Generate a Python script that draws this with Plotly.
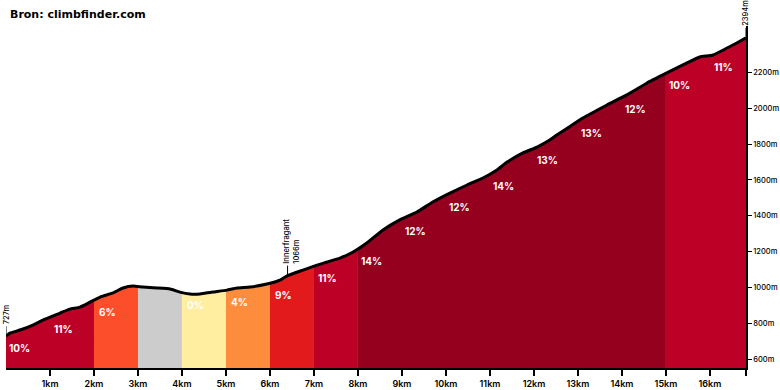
import numpy as np
import plotly.graph_objects as go

# ---- data ----
dist_km = [0, 0.09, 0.32, 0.61, 0.84, 1.23, 1.45, 1.68, 1.91, 2.14, 2.43, 2.66, 2.89, 3.11,
           3.43, 3.73, 3.95, 4.18, 4.41, 4.70, 5.02, 5.25, 5.55, 5.93, 6.23, 6.40, 6.75,
           7.07, 7.30, 7.59, 7.89, 8.20, 8.57, 8.95, 9.34, 9.70, 10.09, 10.48, 10.84,
           11.16, 11.39, 11.75, 12.07, 12.36, 12.52, 12.80, 13.11, 13.66, 14.11, 14.57,
           15.02, 15.48, 15.77, 16.07, 16.39, 16.61, 16.82]
elev_m = [727, 745, 762, 790, 818, 857, 879, 890, 918, 946, 969, 997, 1008, 1002,
          997, 991, 974, 963, 963, 974, 985, 997, 1002, 1019, 1041, 1066, 1097,
          1125, 1142, 1164, 1198, 1248, 1321, 1377, 1421, 1477, 1527, 1572, 1611,
          1656, 1700, 1751, 1784, 1823, 1851, 1896, 1946, 2019, 2075, 2142,
          2198, 2254, 2287, 2298, 2337, 2365, 2394]

seg_start = [0, 1, 2, 3, 4, 5, 6, 7, 8, 9, 10, 11, 12, 13, 14, 15, 16]
seg_end = [1, 2, 3, 4, 5, 6, 7, 8, 9, 10, 11, 12, 13, 14, 15, 16, 16.82]
seg_grade = [10, 11, 6, -3, 0, 4, 9, 11, 14, 12, 12, 14, 13, 13, 12, 10, 11]

km_ticks = [1, 2, 3, 4, 5, 6, 7, 8, 9, 10, 11, 12, 13, 14, 15, 16]
km_labels = [f"{k}km" for k in km_ticks]
elev_ticks = [600, 800, 1000, 1200, 1400, 1600, 1800, 2000, 2200]
elev_labels = [f"{e}m" for e in elev_ticks]

poi_name = "Innerfragant"
poi_km = 6.40
poi_elev = 1066


def grade_color(g):
    if g < 0:
        return "#cccccc"
    if g < 2:
        return "#ffeda0"
    if g < 5:
        return "#fd8d3c"
    if g < 8:
        return "#fc4e2a"
    if g < 10:
        return "#e31a1c"
    if g < 12:
        return "#bd0026"
    return "#96001f"


d = np.array(dist_km)
e = np.array(elev_m)

# group consecutive segments of equal colour into one filled area
runs = []
for s, t, g in zip(seg_start, seg_end, seg_grade):
    c = grade_color(g)
    if runs and runs[-1][2] == c:
        runs[-1][1] = t
    else:
        runs.append([s, t, c])

fig = go.Figure()

for s, t, c in runs:
    inner = (d > s) & (d < t)
    xs = np.concatenate([[s], d[inner], [t]])
    ys = np.concatenate([[np.interp(s, d, e)], e[inner], [np.interp(t, d, e)]])
    fig.add_trace(go.Scatter(x=xs, y=ys, mode="lines", line=dict(width=0),
                             fill="tozeroy", fillcolor=c,
                             hoverinfo="skip", showlegend=False))

fig.add_trace(go.Scatter(x=d, y=e, mode="lines",
                         line=dict(color="black", width=3, shape="spline", smoothing=0.4),
                         hoverinfo="skip", showlegend=False))

label_font = dict(family="Inter", size=10, color="white", weight="bold")
for s, g in zip(seg_start, seg_grade):
    if g < 0:
        continue
    fig.add_annotation(x=s + 0.3, y=np.interp(s, d, e), text=f"{g}%",
                       showarrow=False, yshift=-12, font=label_font,
                       xanchor="center", yanchor="middle")

mark_font = dict(family="Inter", size=7.5, color="black", weight=500)
markers = [(dist_km[0], elev_m[0], f"{elev_m[0]}m", 0),
           (poi_km, poi_elev, f"{poi_name}<br>{poi_elev}m", 4),
           (dist_km[-1], elev_m[-1], f"{elev_m[-1]}m", 0)]
for mx, my, txt, xs_ in markers:
    fig.add_shape(type="line", xref="x", yref="y", xsizemode="scaled",
                  ysizemode="pixel", yanchor=my, x0=mx, x1=mx, y0=1, y1=10,
                  line=dict(color="black", width=1))
    fig.add_annotation(x=mx, y=my, text=txt, textangle=-90, showarrow=False,
                       xanchor="center", yanchor="bottom", yshift=10, xshift=xs_,
                       font=mark_font, align="left")

fig.update_layout(
    width=780, height=390,
    margin=dict(l=6, r=34, t=26, b=22),
    paper_bgcolor="white", plot_bgcolor="white",
    title=dict(text="<b>Bron: climbfinder.com</b>", x=10 / 780, xanchor="left",
               xref="container", yref="container", y=1 - 14 / 390, yanchor="middle",
               font=dict(family="DejaVu Sans", size=11, color="black")),
    xaxis=dict(range=[0, dist_km[-1]], tickvals=km_ticks + [dist_km[-1]],
               ticktext=km_labels + [""], showgrid=False, zeroline=False,
               showline=True, linecolor="black", linewidth=1.5, automargin=False,
               ticks="outside", ticklen=6, tickwidth=1.5, tickcolor="black",
               tickfont=dict(family="Inter", size=9, color="black", weight=600)),
    yaxis=dict(range=[550, 2460], side="right", tickvals=elev_ticks, ticktext=elev_labels,
               showgrid=False, zeroline=False, showline=True, linecolor="black",
               linewidth=1.5, ticks="outside", ticklen=4, tickwidth=1, tickcolor="black",
               automargin=False,
               tickfont=dict(family="Inter", size=7.5, color="black", weight=500)),
)

fig.write_html("out.html", config={"displayModeBar": False},
               post_script="document.body.style.margin='0';")
